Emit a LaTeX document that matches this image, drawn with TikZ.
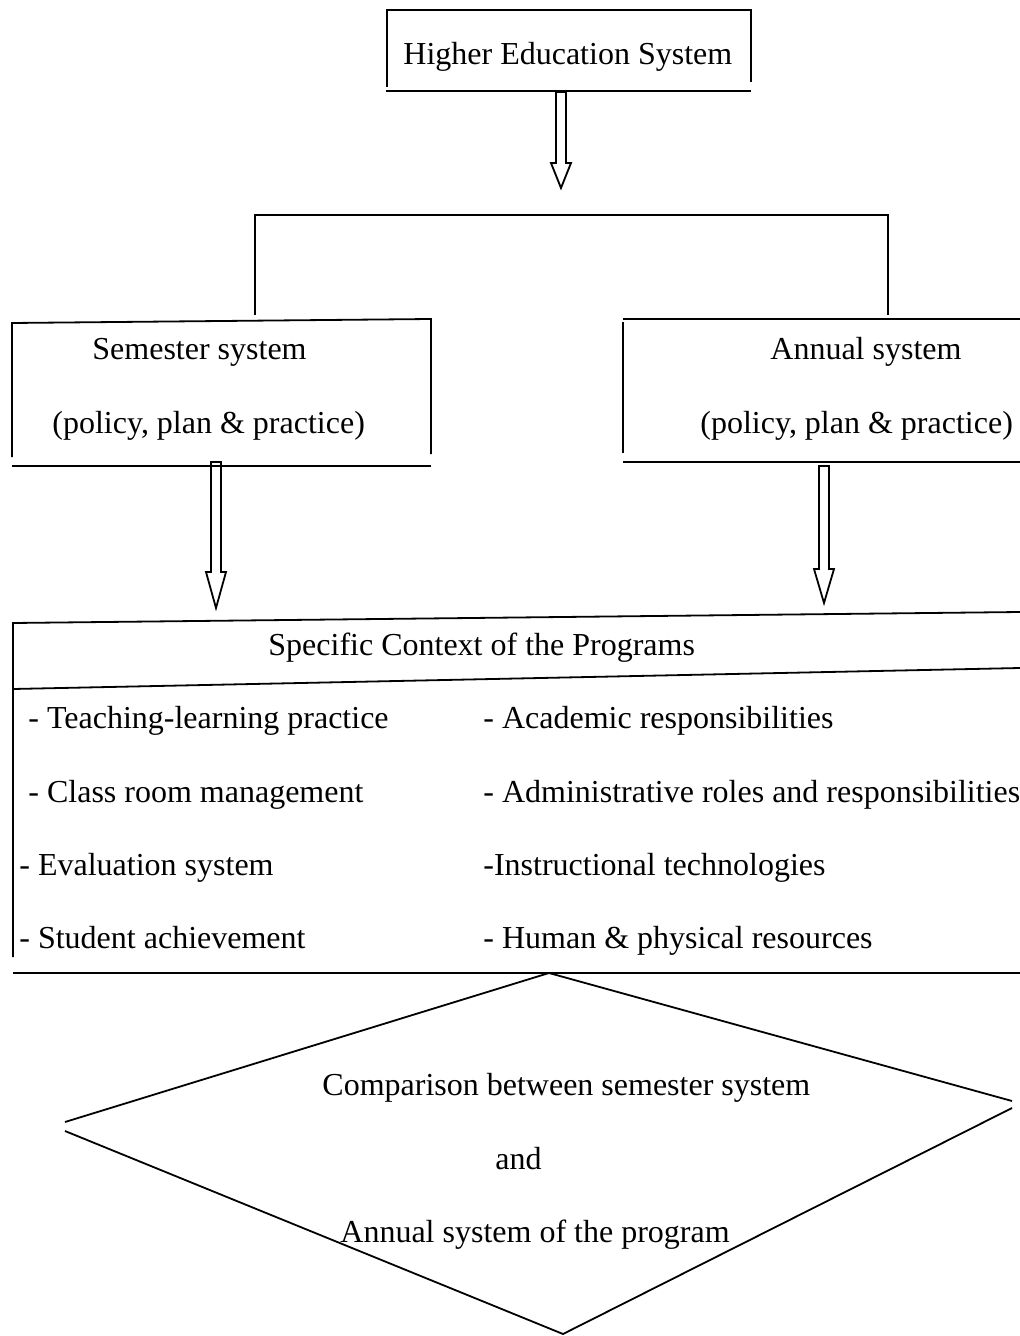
\documentclass[tikz,border=0pt]{standalone}
\usepackage{fontspec}
\setmainfont{Liberation Serif}
\usetikzlibrary{calc}
\tikzset{
  txt/.style={inner sep=0pt, anchor=base west, font=\fontsize{16}{19}\selectfont},
  line/.style={line width=0.9pt}
}
% hollow block arrow from #1 down to tip #2, head length #3
\newcommand{\blockarrow}[3]{%
  \draw[line] ($(#1)+(-5,0)$) -- ($(#1)+(5,0)$) -- ($(#2)+(5,-#3)$) -- ($(#2)+(10,-#3)$)
    -- (#2) -- ($(#2)+(-10,-#3)$) -- ($(#2)+(-5,-#3)$) -- cycle;}
\begin{document}
\begin{tikzpicture}[x=0.5pt,y=-0.5pt]
    \useasboundingbox (0,0) rectangle (1020,1336);
    % top box
    \draw[line] (387,87) -- (387,10) -- (751,10) -- (751,82);
    \draw[line] (386,91) -- (751,91);
    \node[txt] (hes) at (403,65) {Higher Education System};
    \coordinate (hesb) at (561,92);
    \coordinate (hest) at (561,188);
    \blockarrow{hesb}{hest}{25}
    % bracket
    \coordinate (brl) at (255,315);
    \coordinate (brr) at (888,315);
    \draw[line] (brl) |- (571,215) -| (brr);
    % semester box
    \draw[line] (12,457) -- (12,323) -- (431,319) -- (431,454);
    \draw[line] (12,466) -- (431,466);
    \node[txt] (sem) at (92,360) {Semester system};
    \node[txt] (semp) at (52,433) {(policy, plan \& practice)};
    % annual box
    \draw[line] (623,453) -- (623,322);
    \draw[line] (623,319) -- (1020,319);
    \draw[line] (623,462) -- (1020,462);
    \node[txt] (ann) at (770,360) {Annual system};
    \node[txt] (annp) at (700,433) {(policy, plan \& practice)};
    % arrows to context
    \coordinate (semb) at (216,462);
    \coordinate (semt) at (216,608);
    \coordinate (annb) at (824,466);
    \coordinate (annt) at (824,603);
    \blockarrow{semb}{semt}{36}
    \blockarrow{annb}{annt}{34}
    % context box
    \draw[line] (13,957) -- (13,623) -- (1020,612);
    \draw[line] (13,689) -- (1020,668);
    \draw[line] (13,973) -- (1020,973);
    \node[txt] (ctx) at (268,655) {Specific Context of the Programs};
    \foreach \i/\xx/\yy/\txt in {1/28/728/{- Teaching-learning practice},
        2/28/802/{- Class room management},
        3/19/875/{- Evaluation system},
        4/19/948/{- Student achievement}}
        \node[txt] (l\i) at (\xx,\yy) {\txt};
    \foreach \i/\yy/\txt in {1/728/{- Academic responsibilities},
        2/802/{- Administrative roles and responsibilities},
        3/875/{-Instructional technologies},
        4/948/{- Human \& physical resources}}
        \node[txt] (r\i) at (483,\yy) {\txt};
    % comparison diamond
    \coordinate (dt) at (549,973);
    \coordinate (dr1) at (1012,1101);
    \coordinate (dr2) at (1012,1108);
    \coordinate (db) at (563,1334);
    \coordinate (dl2) at (65,1131);
    \coordinate (dl1) at (65,1122);
    \draw[line] (dl1) -- (dt) -- (dr1);
    \draw[line] (dr2) -- (db) -- (dl2);
    \node[txt] (cmp1) at (322,1095) {Comparison between semester system};
    \node[txt] (cmp2) at (495,1169) {and};
    \node[txt] (cmp3) at (340,1242) {Annual system of the program};
\end{tikzpicture}
\end{document}
